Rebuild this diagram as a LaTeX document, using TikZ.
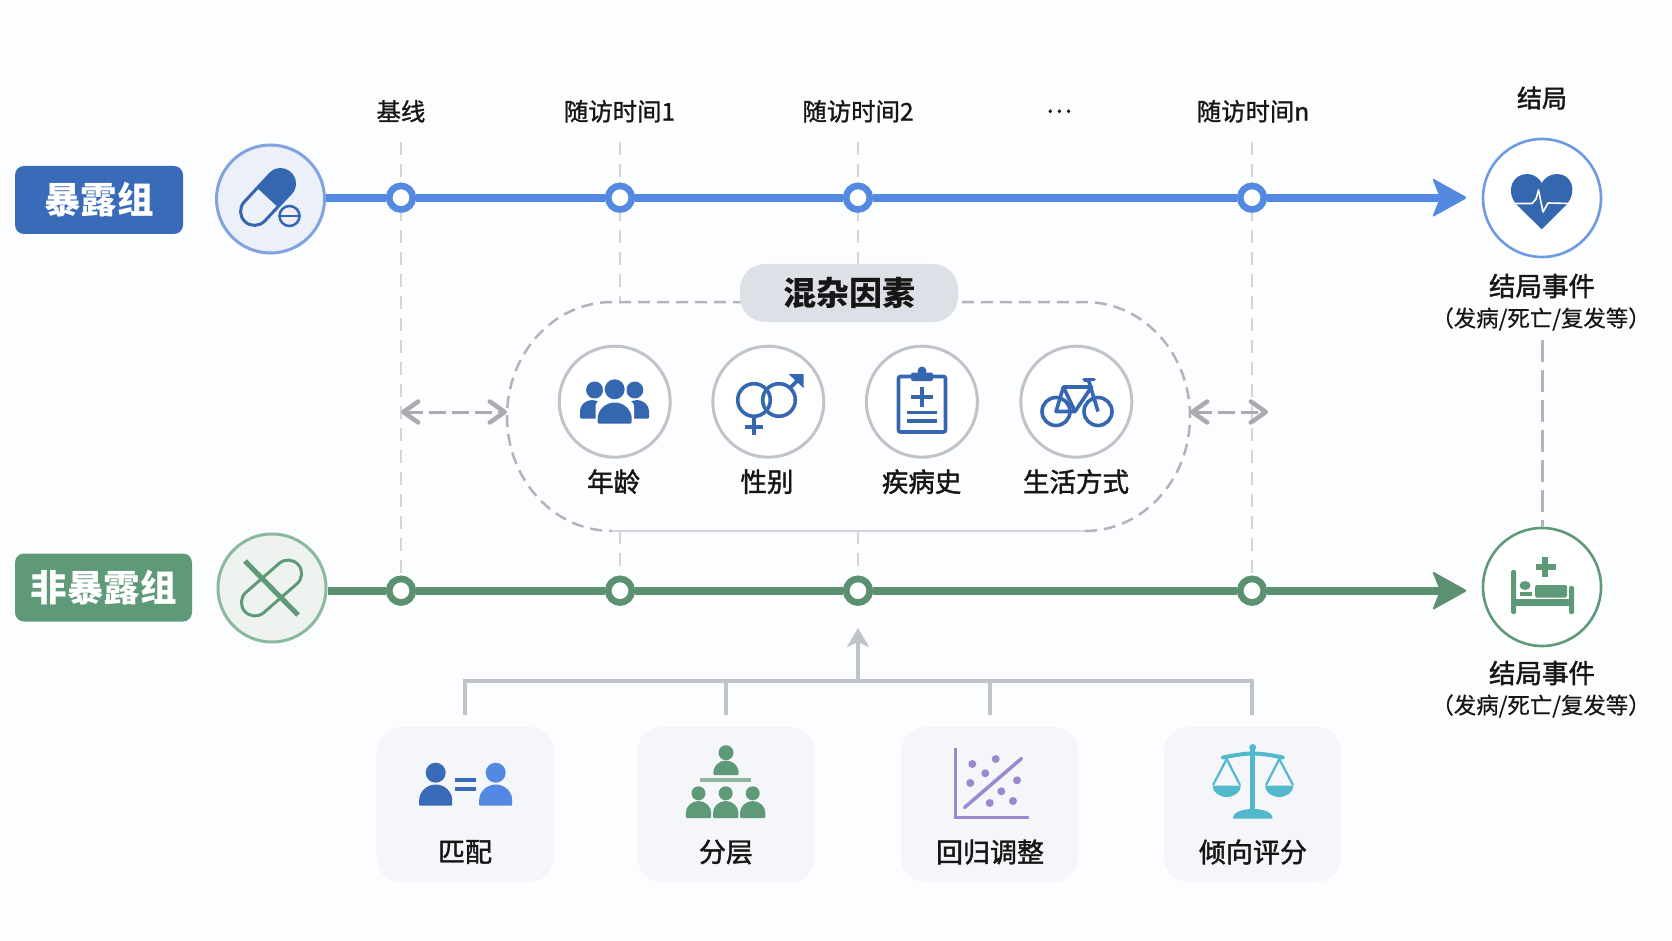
\documentclass[tikz,border=0pt]{standalone}
\usepackage{fontspec}
\setmainfont{Noto Sans CJK SC}
\newfontfamily\medcjk{Noto Sans CJK SC}[FakeBold=1.6]
\newfontfamily\topcjk{Noto Sans CJK SC}[FakeBold=1.1]
\newfontfamily\subcjk{Noto Sans CJK SC}[FakeBold=0.5]
\usetikzlibrary{arrows.meta}
\definecolor{bg}{HTML}{FCFDFE}
\definecolor{bluedark}{HTML}{3A6BB8}
\definecolor{blueline}{HTML}{5389E0}
\definecolor{outblue}{HTML}{6C9AE4}
\definecolor{bluering}{HTML}{7FA3DE}
\definecolor{bluefill}{HTML}{ECF0F8}
\definecolor{greendark}{HTML}{5F9A78}
\definecolor{greenline}{HTML}{5B9170}
\definecolor{greenring}{HTML}{8DB8A0}
\definecolor{greenfill}{HTML}{EEF3F0}
\definecolor{grayline}{HTML}{C0C3CA}
\definecolor{graydash}{HTML}{B2B4B9}
\definecolor{grayarrow}{HTML}{A9ABAF}
\definecolor{graylight}{HTML}{D3D5D9}
\definecolor{pillgray}{HTML}{DDE0E6}
\definecolor{cardfill}{HTML}{F4F6FA}
\definecolor{iconblue}{HTML}{3566B0}
\definecolor{purp}{HTML}{9C88CE}
\definecolor{teal}{HTML}{52B8CC}
\definecolor{ink}{HTML}{161616}
\tikzset{
 badge/.style={rounded corners=9pt,text=white,inner sep=0pt,font=\fontsize{36.5}{36.5}\selectfont\bfseries},
 lbl/.style={text=ink,inner sep=0pt,font=\fontsize{26.5}{26.5}\selectfont\medcjk},
 toplbl/.style={text=ink,inner sep=0pt,font=\fontsize{24.4}{24.4}\selectfont\topcjk},
 sublbl/.style={text=ink,inner sep=0pt,font=\fontsize{22.4}{22.4}\selectfont\subcjk},
 bluemark/.style={circle,draw=blueline,fill=white,line width=6.5pt,minimum size=23.5pt,inner sep=0pt},
 greenmark/.style={circle,draw=greenline,fill=white,line width=6.5pt,minimum size=23.5pt,inner sep=0pt},
 bluetrack/.style={line width=8pt,blueline},
 greentrack/.style={line width=8pt,greenline},
 guide/.style={graylight,line width=2.5pt,dash pattern=on 13pt off 9pt},
 confcirc/.style={circle,draw=grayline,fill=white,line width=3pt,minimum size=111pt,inner sep=0pt},
 outcirc/.style={circle,fill=white,line width=2.6pt,minimum size=118pt,inner sep=0pt},
 card/.style={fill=cardfill,rounded corners=24pt,minimum width=177pt,minimum height=155pt,inner sep=0pt},
 bus/.style={grayline,line width=3.5pt},
 barb/.tip={Straight Barb[length=15pt,width=21pt,line width=4.5pt,round]},
 biarrow/.style={grayarrow,line width=3pt,dash pattern=on 17pt off 6pt},
 ico/.style={iconblue,line width=3.6pt},
}
\newcommand{\hperson}[7]{%
 \fill[#1] (#2,#3) circle[radius=#4];
 \fill[#1,rounded corners=1pt] ({#2-#5},#7) -- ({#2-#5},{#6+#5}) arc[start angle=180,end angle=360,radius=#5] -- ({#2+#5},#7) -- cycle;}
\begin{document}
\begin{tikzpicture}[x=1pt,y=1pt,yscale=-1]
\fill[bg] (0,0) rectangle (1672,941);
\useasboundingbox (0,0) rectangle (1672,941);
% named anchors
\coordinate (t1) at (401,142); \coordinate (t2) at (620,142); \coordinate (t3) at (858,142); \coordinate (t4) at (1252,142);
\coordinate (boxtop2) at (620,302); \coordinate (boxbot2) at (620,531); \coordinate (boxbot3) at (858,531);
\coordinate (pilltop3) at (858,266);
\coordinate (boxL) at (507,412); \coordinate (boxR) at (1190,412);
\coordinate (gl) at (401,412); \coordinate (gr) at (1268,412);
% marks
\node[bluemark] (e1) at (401,197.7) {}; \node[bluemark] (e2) at (620,197.7) {}; \node[bluemark] (e3) at (858,197.7) {}; \node[bluemark] (e4) at (1252,197.7) {};
\node[greenmark] (g1) at (401,590.7) {}; \node[greenmark] (g2) at (620,590.7) {}; \node[greenmark] (g3) at (858,590.7) {}; \node[greenmark] (g4) at (1252,590.7) {};
% guides
\draw[guide] (t1) -- (g1);
\draw[guide] (t4) -- (g4);
\draw[guide] (t2) -- (boxtop2);
\draw[guide] (boxbot2) -- (g2);
\draw[guide] (t3) -- (pilltop3);
\draw[guide] (boxbot3) -- (g3);
% group badges
\node[badge,fill=bluedark,minimum width=168pt,minimum height=68pt] (expo) at (99,200) {暴露组};
\node[badge,fill=greendark,minimum width=177pt,minimum height=68pt] (nonexpo) at (103.5,587.5) {非暴露组};
% start circles
\node[circle,draw=bluering,fill=bluefill,line width=3pt,minimum size=108pt,inner sep=0pt] (expc) at (270.5,199) {};
\node[circle,draw=greenring,fill=greenfill,line width=3pt,minimum size=108pt,inner sep=0pt] (nonc) at (272,588) {};
% outcomes
\node[outcirc,draw=outblue] (outA) at (1542,198) {};
\node[outcirc,draw=greendark] (outB) at (1542,587) {};
% tracks
\coordinate (aT) at (1467.5,197.7); \coordinate (bT) at (1467.5,590.7);
\coordinate (aB) at (1440,197.7); \coordinate (bB) at (1440,590.7);
\draw[bluetrack] (expc.east |- e1) -- (e1);
\draw[bluetrack] (e1) -- (e2); \draw[bluetrack] (e2) -- (e3); \draw[bluetrack] (e3) -- (e4);
\draw[bluetrack] (e4) -- (aB);
\fill[blueline,rounded corners=2.5pt] (1432,178) -- (aT) -- (1432,217.4) -- (aB) -- cycle;
\draw[greentrack] (nonc.east |- g1) -- (g1);
\draw[greentrack] (g1) -- (g2); \draw[greentrack] (g2) -- (g3); \draw[greentrack] (g3) -- (g4);
\draw[greentrack] (g4) -- (bB);
\fill[greenline,rounded corners=2.5pt] (1432,571) -- (bT) -- (1432,610.4) -- (bB) -- cycle;
% redraw marks on top
\node[bluemark] at (e1) {}; \node[bluemark] at (e2) {}; \node[bluemark] at (e3) {}; \node[bluemark] at (e4) {};
\node[greenmark] at (g1) {}; \node[greenmark] at (g2) {}; \node[greenmark] at (g3) {}; \node[greenmark] at (g4) {};
% top labels
\node[toplbl] (l1) at (401,111.3) {基线};
\node[toplbl] (l2) at (619.5,111.3) {随访时间1};
\node[toplbl] (l3) at (858,111.3) {随访时间2};
\node[toplbl] (l4) at (1059,111.3) {…};
\node[toplbl] (l5) at (1253,111.3) {随访时间n};
\node[lbl,font=\fontsize{25}{25}\selectfont\medcjk] (l6) at (1542,98) {结局};
% outcome texts
\node[lbl] (oa) at (1542,286) {结局事件};
\node[sublbl] (oa2) at (1541,319) {（发病/死亡/复发等）};
\node[lbl] (ob) at (1542,673) {结局事件};
\node[sublbl] (ob2) at (1541,706) {（发病/死亡/复发等）};
\coordinate (odash) at (1542,340);
\draw[graydash,line width=3pt,dash pattern=on 22pt off 8pt] (odash) -- (outB.north);
% pill icon
\begin{scope}[shift={(267.5,197.5)},rotate=-47]
\fill[iconblue] (0,-15.5) -- (19,-15.5) arc[start angle=-90,end angle=90,radius=15.5] -- (0,15.5) -- cycle;
\draw[iconblue,line width=3pt,fill=none] (0,-14) -- (-19,-14) arc[start angle=270,end angle=90,radius=14] -- (0,14);
\end{scope}
\node[circle,draw=iconblue,fill=bluefill,line width=2.5pt,minimum size=20pt,inner sep=0pt] (tab) at (289.5,216) {};
\draw[iconblue,line width=2pt] (tab.west) -- (tab.east);
% crossed pill
\begin{scope}[shift={(271.5,588)},rotate=-41]
\draw[greendark,line width=3pt] (-22,-13.5) -- (22,-13.5) arc[start angle=-90,end angle=90,radius=13.5] -- (-22,13.5) arc[start angle=90,end angle=270,radius=13.5];
\end{scope}
\draw[greendark,line width=5pt] (245,561) -- (298,615);
% heart
\fill[iconblue] (1541.7,229.3) -- (1516,204) .. controls (1505,190) and (1513,174) .. (1527,174) .. controls (1534,174) and (1539,178) .. (1541.7,183) .. controls (1544.5,178) and (1550,174) .. (1557,174) .. controls (1571,174) and (1578,190) .. (1567,204) -- cycle;
\draw[white,line width=1.6pt,line join=round] (1514,203.5) -- (1532,203.5) -- (1536,199) -- (1538.5,190) -- (1543,212) -- (1548,203) -- (1570,203.5);
% bed
\fill[greendark,rounded corners=1.5pt] (1511,570) rectangle (1516,614);
\fill[greendark,rounded corners=1.5pt] (1569,586) rectangle (1574,614);
\fill[greendark] (1515,599) rectangle (1570,606);
\fill[greendark,rounded corners=1.5pt] (1535,585) rectangle (1567,597.5);
\fill[greendark] (1525,585.5) ellipse[x radius=5.5,y radius=4.5];
\fill[greendark] (1520,592) rectangle (1532,596);
\fill[greendark] (1542,557) rectangle (1548,577);
\fill[greendark] (1535.5,564) rectangle (1555.5,570);
% confounder box
\draw[graydash,line width=2.5pt,dash pattern=on 12pt off 7pt] (745,302) -- (612,302) arc[start angle=270,end angle=180,x radius=105,y radius=114.5] arc[start angle=180,end angle=90,x radius=105,y radius=114.5];
\draw[graylight,line width=2.5pt] (612,531) -- (1085,531);
\draw[graydash,line width=2.5pt,dash pattern=on 12pt off 7pt] (1085,531) arc[start angle=90,end angle=0,x radius=105,y radius=114.5] arc[start angle=0,end angle=-90,x radius=105,y radius=114.5] -- (950,302);
\node[fill=pillgray,rounded corners=25pt,minimum width=218pt,minimum height=58pt,inner sep=0pt,text=ink,font=\fontsize{33}{33}\selectfont\bfseries] (pill) at (849,293) {混杂因素};
% two-way arrows
\draw[biarrow,barb-barb] (gl) -- (boxL);
\draw[biarrow,barb-barb] (boxR) -- (gr);
% confounder circles
\node[confcirc] (c1) at (614.7,401.7) {};
\node[confcirc] (c2) at (768.3,401.7) {};
\node[confcirc] (c3) at (921.9,401.7) {};
\node[confcirc] (c4) at (1076.3,401.7) {};
\node[lbl] (cl1) at (613.6,481.7) {年龄};
\node[lbl] (cl2) at (767,481.7) {性别};
\node[lbl] (cl3) at (921.6,481.7) {疾病史};
\node[lbl] (cl4) at (1076,481.7) {生活方式};
% people icon
\fill[iconblue] (594.6,390) circle[radius=8.5];
\fill[iconblue] (634.8,390) circle[radius=8.5];
\hperson{iconblue}{592}{390}{0}{12}{400}{418.5}
\hperson{iconblue}{637}{390}{0}{12}{400}{418.5}
\fill[white] (614.7,389.3) circle[radius=12];
\fill[white,rounded corners=6pt] (595.5,400.5) rectangle (634,426);
\hperson{iconblue}{614.7}{389.3}{10}{17}{402.5}{423.5}
% gender icon
\draw[ico] (754,400) circle[radius=16.3];
\draw[ico] (779,400) circle[radius=16.3];
\draw[ico] (754,417) -- (754,435);
\draw[ico] (744.6,426.7) -- (763.4,426.7);
\draw[ico] (790,388) -- (801,377);
\fill[iconblue] (788.5,374) -- (803.5,374) -- (803.5,388) -- cycle;
% clipboard
\draw[ico,rounded corners=2pt,fill=white] (898.5,376.5) rectangle (945.5,432);
\fill[iconblue,rounded corners=2pt] (911,372.5) rectangle (933,381);
\fill[iconblue] (922,371) circle[radius=4.5];
\draw[ico] (922,387) -- (922,406.5);
\draw[ico] (911,396.7) -- (933,396.7);
\draw[ico] (907,412.3) -- (937,412.3);
\draw[ico] (907,420.7) -- (937,420.7);
% bicycle
\draw[ico] (1056,411.5) circle[radius=14];
\draw[ico] (1098,411.5) circle[radius=14];
\draw[ico,line join=round] (1056,411.5) -- (1063.4,387) -- (1091.5,387) -- (1075,411.5) -- cycle;
\draw[ico,line join=round] (1098,411.5) -- (1088.5,380) -- (1084,380);
\draw[ico,line cap=round] (1084,379.5) -- (1094,379.5);
\draw[ico] (1063.4,387) -- (1075,411.5);
% method bus
\coordinate (busL) at (465,681); \coordinate (busR) at (1252,681); \coordinate (busM) at (858,681);
\coordinate (d1) at (465,715); \coordinate (d2) at (726,681); \coordinate (d2b) at (726,715);
\coordinate (d3) at (990,681); \coordinate (d3b) at (990,715); \coordinate (d4) at (1252,715);
\coordinate (busTip) at (858,628);
\draw[bus] (d1) -- (busL) -- (busR) -- (d4);
\draw[bus] (d2) -- (d2b);
\draw[bus] (d3) -- (d3b);
\draw[bus,-{Stealth[length=19pt,width=22pt,inset=5pt]}] (busM) -- (busTip);
% cards
\node[card] (m1) at (465,804.5) {};
\node[card] (m2) at (726,804.5) {};
\node[card] (m3) at (989.5,804.5) {};
\node[card] (m4) at (1252.5,804.5) {};
\node[lbl,font=\fontsize{27}{27}\selectfont\medcjk] (ml1) at (465,852) {匹配};
\node[lbl,font=\fontsize{27}{27}\selectfont\medcjk] (ml2) at (726,852) {分层};
\node[lbl,font=\fontsize{27}{27}\selectfont\medcjk] (ml3) at (990,852) {回归调整};
\node[lbl,font=\fontsize{27}{27}\selectfont\medcjk] (ml4) at (1253,852) {倾向评分};
% matching icon
\hperson{bluedark}{435.7}{772.7}{10}{16.5}{784.5}{805.7}
\hperson{blueline}{495.7}{772.7}{10}{16.5}{784.5}{805.7}
\fill[bluedark] (455.3,777.7) rectangle (476.3,782.3);
\fill[bluedark] (455.3,786.7) rectangle (476.3,791.3);
% stratification icon
\hperson{greendark}{726}{752.7}{7.5}{12.7}{760.5}{775}
\fill[greenring] (699.5,778) rectangle (751,782);
\hperson{greendark}{698.5}{793.3}{7}{12.7}{801}{818}
\hperson{greendark}{725.7}{793.3}{7}{12.7}{801}{818}
\hperson{greendark}{752.7}{793.3}{7}{12.7}{801}{818}
% regression icon
\draw[purp,line width=3pt] (955,748) -- (955,817) -- (1028.5,817);
\draw[purp,line width=3.5pt,line cap=round] (964.5,807.5) -- (1021.5,758.5);
\foreach \px/\py in {972.3/764,995.7/759,985.3/773.3,970.3/783,1017/780.3,1001.3/791.3,989.7/803,1013/801}
 \fill[purp] (\px,\py) circle[radius=4];
% scales icon
\fill[teal] (1252.7,747.5) circle[radius=3.5];
\draw[teal,line width=5.5pt] (1252.7,750) -- (1252.7,814);
\fill[teal] (1233,818.5) .. controls (1233,811) and (1245,809) .. (1252.7,809) .. controls (1261,809) and (1272.5,811) .. (1272.5,818.5) -- cycle;
\draw[teal,line width=4pt,line cap=round] (1223,757.5) .. controls (1235,755) and (1245,753.5) .. (1252.7,753.5) .. controls (1261,753.5) and (1271,755) .. (1282.7,757.5);
\draw[teal,line width=2.2pt,line join=round] (1213,785) -- (1226.7,759) -- (1240,785);
\draw[teal,line width=2.2pt,line join=round] (1266,785) -- (1279.3,759) -- (1293,785);
\fill[teal] (1212.5,785.5) arc[start angle=180,end angle=0,x radius=14.2,y radius=11.5] -- cycle;
\fill[teal] (1265,785.5) arc[start angle=180,end angle=0,x radius=14.2,y radius=11.5] -- cycle;
\end{tikzpicture}
\end{document}
